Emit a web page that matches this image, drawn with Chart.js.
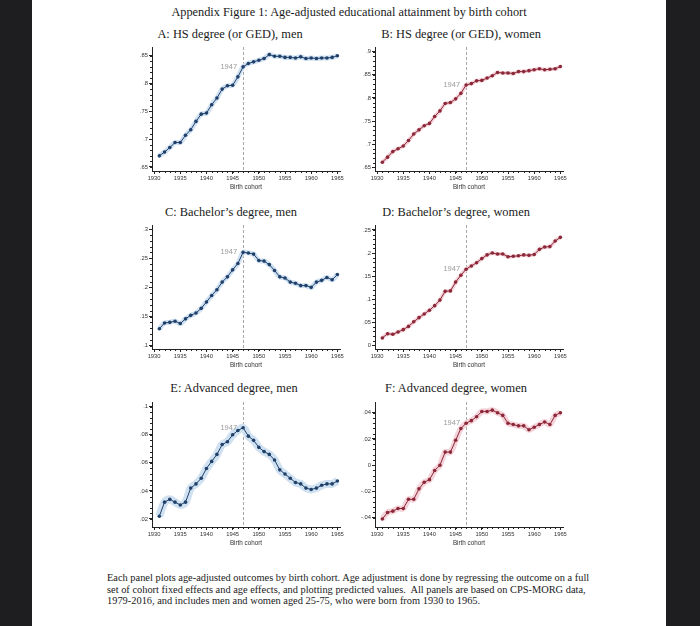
<!DOCTYPE html>
<html>
<head>
<meta charset="utf-8">
<script src="https://cdn.jsdelivr.net/npm/chart.js@4.4.1/dist/chart.umd.min.js"></script>
<style>
  body { margin: 0; width: 700px; height: 626px; overflow: hidden; position: relative; background: #1e1e20; font-family: "Liberation Serif", "Times New Roman", serif; }
  .page { position: absolute; left: 32px; top: 0; width: 634px; height: 626px; background: #fff; }
  .t { position: absolute; white-space: nowrap; color: #1a1a1a; transform: translate(-50%, -50%); }
  .note { position: absolute; left: 107px; top: 572px; font-size: 10.4px; line-height: 11.5px; color: #1a1a1a; white-space: nowrap; }
  canvas { position: absolute; }
</style>
</head>
<body>
<div class="page"></div>
<div class="t" style="left:349px; top:12px; font-size:12.3px;">Appendix Figure 1: Age-adjusted educational attainment by birth cohort</div>
<div class="t" style="left:230px; top:34px; font-size:12.4px;">A: HS degree (or GED), men</div>
<div class="t" style="left:461px; top:34px; font-size:12.4px;">B: HS degree (or GED), women</div>
<div class="t" style="left:231px; top:212px; font-size:12.4px;">C: Bachelor’s degree, men</div>
<div class="t" style="left:456px; top:212px; font-size:12.4px;">D: Bachelor’s degree, women</div>
<div class="t" style="left:234px; top:388px; font-size:12.4px;">E: Advanced degree, men</div>
<div class="t" style="left:456px; top:388px; font-size:12.4px;">F: Advanced degree, women</div>
<div class="note">Each panel plots age-adjusted outcomes by birth cohort. Age adjustment is done by regressing the outcome on a full<br>set of cohort fixed effects and age effects, and plotting predicted values.&nbsp; All panels are based on CPS-MORG data,<br>1979-2016, and includes men and women aged 25-75, who were born from 1930 to 1965.</div>

<script>
// birth cohorts
const years = [1931, 1932, 1933, 1934, 1935, 1936, 1937, 1938, 1939, 1940,
               1941, 1942, 1943, 1944, 1945, 1946, 1947, 1948, 1949, 1950,
               1951, 1952, 1953, 1954, 1955, 1956, 1957, 1958, 1959, 1960,
               1961, 1962, 1963, 1964, 1965];
const xTicks = [1930, 1935, 1940, 1945, 1950, 1955, 1960, 1965];
const cutoffYear = 1947;

// A: HS degree, men
const hsMen = [.670, .677, .685, .694, .694, .707, .717, .732, .745, .747,
               .762, .774, .790, .796, .797, .812, .830, .836, .839, .842,
               .845, .852, .849, .849, .847, .847, .846, .848, .845, .846,
               .845, .846, .846, .847, .850];
// B: HS degree, women
const hsWomen = [.661, .672, .684, .690, .696, .708, .722, .731, .740, .745,
                 .760, .772, .788, .790, .798, .810, .828, .831, .837, .838,
                 .843, .848, .855, .854, .854, .853, .857, .857, .859, .861,
                 .863, .861, .862, .863, .868];
// C: Bachelor's, men
const baMen = [.129, .139, .140, .142, .138, .146, .152, .156, .164, .175,
               .186, .196, .209, .218, .230, .241, .260, .259, .257, .246,
               .245, .239, .229, .218, .216, .209, .207, .203, .203, .200,
               .209, .212, .217, .213, .222];
// D: Bachelor's, women
const baWomen = [.016, .025, .024, .029, .034, .041, .051, .060, .068, .076,
                 .086, .098, .117, .118, .137, .152, .165, .172, .179, .188,
                 .196, .200, .198, .198, .192, .193, .194, .196, .195, .197,
                 .208, .213, .214, .226, .234];
// E: Advanced degree, men
const advMen = [.022, .032, .034, .032, .030, .032, .042, .045, .049, .056,
                .061, .066, .073, .075, .080, .083, .085, .079, .076, .071,
                .068, .066, .062, .055, .052, .049, .046, .045, .042, .041,
                .042, .044, .045, .045, .047];
// F: Advanced degree, women
const advWomen = [-.041, -.036, -.035, -.033, -.033, -.026, -.026, -.018, -.013, -.011,
                  -.004, .000, .010, .010, .019, .028, .032, .034, .037, .041,
                  .041, .042, .040, .038, .032, .031, .030, .030, .027, .029,
                  .031, .033, .031, .038, .040];

const yTicksHsMen = [.65, .7, .75, .8, .85];
const yTicksHsWomen = [.65, .7, .75, .8, .85, .9];
const yTicksBaMen = [.1, .15, .2, .25, .3];
const yTicksBaWomen = [0, .05, .1, .15, .2, .25];
const yTicksAdvMen = [.02, .04, .06, .08, .1];
const yTicksAdvWomen = [-.04, -.02, 0, .02, .04];

const SANS = "'Liberation Sans', Arial, sans-serif";
const BLUE = { line: '#20406a', band: '#d0e1f1' };
const RED = { line: '#8c2738', band: '#f4d4da' };

function fmt(v) {
  const s = String(+v.toFixed(3));
  return s.replace(/^0\./, '.').replace(/^-0\./, '-.');
}

// dashed cohort line, its label and the small minor ticks
const cohortMarks = {
  id: 'cohortMarks',
  beforeDatasetsDraw(chart) {
    const { ctx, chartArea } = chart;
    const x = chart.scales.x.getPixelForValue(cutoffYear);
    ctx.save();
    ctx.strokeStyle = '#a8a8a8';
    ctx.lineWidth = 1;
    ctx.setLineDash([3, 2]);
    ctx.beginPath();
    ctx.moveTo(Math.round(x) + 0.5, chartArea.top);
    ctx.lineTo(Math.round(x) + 0.5, chartArea.bottom);
    ctx.stroke();
    ctx.restore();
  },
  afterDraw(chart) {
    const { ctx, chartArea, scales } = chart;
    const xs = scales.x, ys = scales.y;
    const pt = chart.data.datasets[1].data.find(p => p.x === cutoffYear);
    ctx.save();
    ctx.fillStyle = '#9a9a9a';
    ctx.font = '7.5px ' + SANS;
    ctx.textAlign = 'right';
    ctx.textBaseline = 'middle';
    ctx.fillText(String(cutoffYear), xs.getPixelForValue(cutoffYear) - 6, ys.getPixelForValue(pt.y));

    ctx.strokeStyle = '#222';
    ctx.lineWidth = 1;
    ctx.beginPath();
    for (let yr = xTicks[0]; yr <= xTicks[xTicks.length - 1]; yr++) {
      const px = Math.round(xs.getPixelForValue(yr)) + 0.5;
      ctx.moveTo(px, chartArea.bottom);
      ctx.lineTo(px, chartArea.bottom + 2);
    }
    const yt = ys.ticks.map(t => t.value);
    const step = (yt[1] - yt[0]) / 5;
    for (let v = yt[0]; v <= yt[yt.length - 1] + 1e-9; v += step) {
      const py = Math.round(ys.getPixelForValue(v)) + 0.5;
      ctx.moveTo(chartArea.left, py);
      ctx.lineTo(chartArea.left - 2, py);
    }
    ctx.stroke();
    ctx.restore();
  }
};

function makePanel(p) {
  const W = 240, H = 160;
  const c = document.createElement('canvas');
  c.width = W; c.height = H;
  c.style.left = p.left + 'px';
  c.style.top = p.top + 'px';
  document.body.appendChild(c);

  const pts = years.map((x, i) => ({ x: x, y: p.values[i] }));
  const padTop = p.plotTop - p.top;
  const xH = 21;
  const padBottom = H - (p.plotBottom - p.top) - xH;

  new Chart(c, {
    type: 'line',
    data: {
      datasets: [
        { data: pts, borderColor: p.color.band, borderWidth: p.bandW, pointRadius: 0, tension: 0.4, order: 2 },
        { data: pts, borderColor: p.color.line, backgroundColor: p.color.line, borderWidth: 1,
          pointRadius: 1.8, pointBorderWidth: 0, tension: 0, order: 1 }
      ]
    },
    options: {
      responsive: false,
      animation: false,
      devicePixelRatio: 1,
      layout: { autoPadding: false, padding: { left: 0, top: padTop, right: 10, bottom: padBottom } },
      plugins: { legend: { display: false }, tooltip: { enabled: false } },
      scales: {
        x: {
          type: 'linear', min: 1929.6, max: 1965.5,
          afterBuildTicks: s => { s.ticks = xTicks.map(v => ({ value: v })); },
          afterFit: s => { s.height = xH; },
          ticks: { font: { size: 5.8, family: SANS }, color: '#333', padding: 1, maxRotation: 0, autoSkip: false,
                   callback: v => String(v) },
          grid: { drawOnChartArea: false, tickLength: 3, color: '#222' },
          border: { color: '#222', width: 1 },
          title: { display: true, text: 'Birth cohort', color: '#333', font: { size: 6.3, family: SANS },
                   padding: { top: 0, bottom: 0.5 } }
        },
        y: {
          type: 'linear', min: p.yMin, max: p.yMax,
          afterBuildTicks: s => { s.ticks = p.yTicks.map(v => ({ value: v })); },
          afterFit: s => { s.width = 42; },
          ticks: { font: { size: 5.8, family: SANS }, color: '#333', padding: 1, autoSkip: false,
                   callback: v => fmt(v) },
          grid: { drawOnChartArea: false, tickLength: 3, color: '#222' },
          border: { color: '#222', width: 1 }
        }
      }
    },
    plugins: [cohortMarks]
  });
}

const LEFT = 110, RIGHT = 333;

makePanel({ left: LEFT, top: 40, plotTop: 47, plotBottom: 171, values: hsMen, color: BLUE, bandW: 5,
            yMin: .6428, yMax: .8657, yTicks: yTicksHsMen });
makePanel({ left: RIGHT, top: 40, plotTop: 47, plotBottom: 171, values: hsWomen, color: RED, bandW: 4,
            yMin: .642, yMax: .9102, yTicks: yTicksHsWomen });
makePanel({ left: LEFT, top: 218, plotTop: 225, plotBottom: 349, values: baMen, color: BLUE, bandW: 5,
            yMin: .0943, yMax: .3069, yTicks: yTicksBaMen });
makePanel({ left: RIGHT, top: 218, plotTop: 225, plotBottom: 349, values: baWomen, color: RED, bandW: 4,
            yMin: -.008, yMax: .2608, yTicks: yTicksBaWomen });
makePanel({ left: LEFT, top: 395, plotTop: 402, plotBottom: 527, values: advMen, color: BLUE, bandW: 8,
            yMin: .0143, yMax: .1033, yTicks: yTicksAdvMen });
makePanel({ left: RIGHT, top: 395, plotTop: 402, plotBottom: 527, values: advWomen, color: RED, bandW: 6,
            yMin: -.0471, yMax: .0482, yTicks: yTicksAdvWomen });
</script>
</body>
</html>
